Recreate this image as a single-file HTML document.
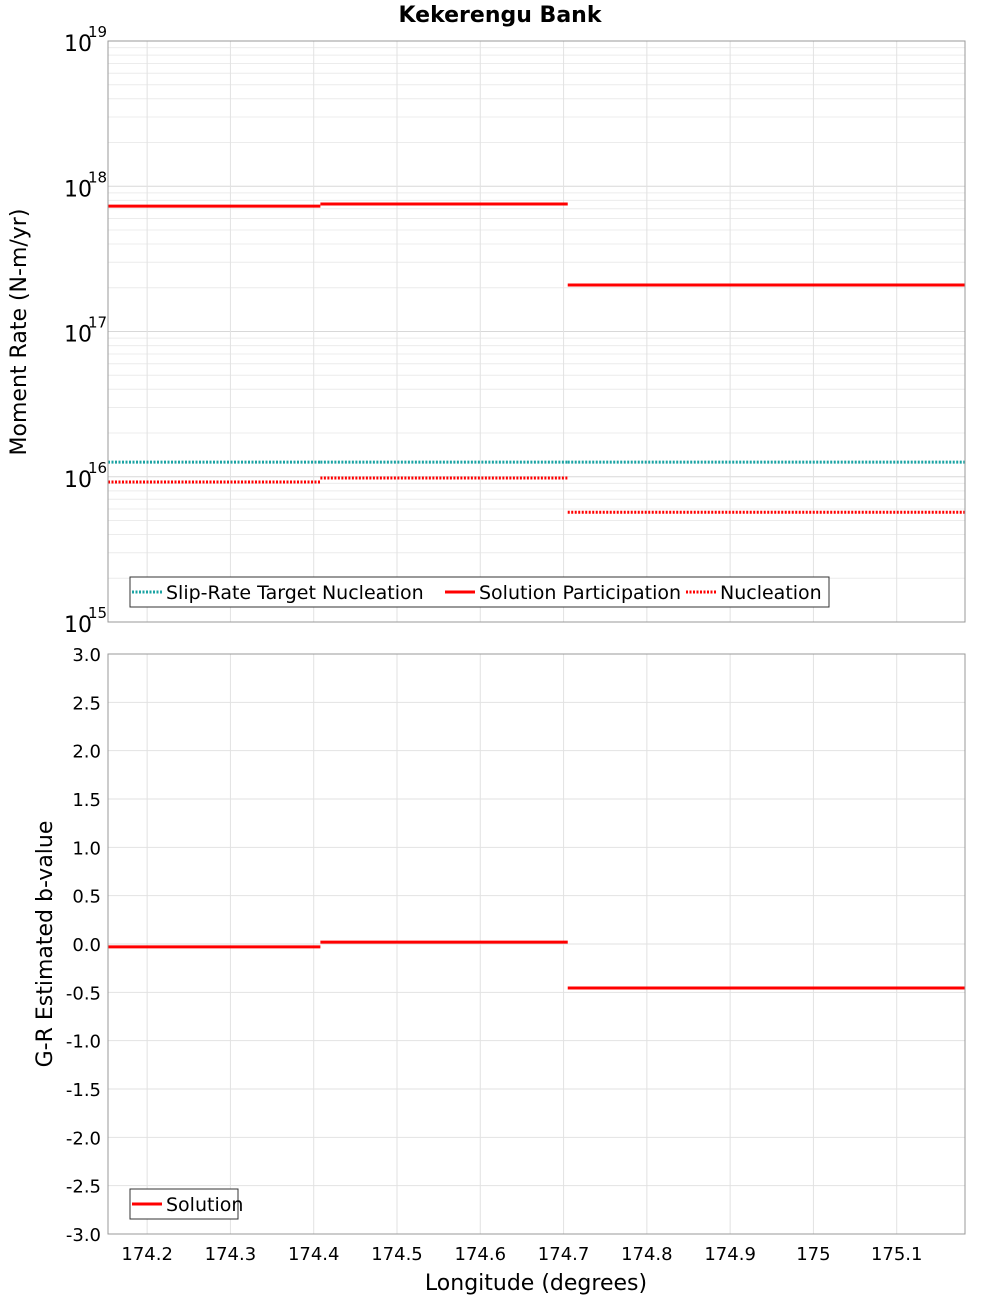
<!DOCTYPE html>
<html><head><meta charset="utf-8"><style>
body{margin:0;background:#fff;}
svg text{font-family:"DejaVu Sans","Liberation Sans",sans-serif;}
</style></head><body>
<svg id="c" width="1000" height="1300" xmlns="http://www.w3.org/2000/svg">
<text x="500" y="22" text-anchor="middle" font-size="22" font-weight="bold">Kekerengu Bank</text>
<g id="gtop"></g><g id="gbot"></g>
<text transform="translate(26,332) rotate(-90)" text-anchor="middle" font-size="22">Moment Rate (N-m/yr)</text>
<text transform="translate(52,944) rotate(-90)" text-anchor="middle" font-size="22">G-R Estimated b-value</text>
<text x="536" y="1290" text-anchor="middle" font-size="22">Longitude (degrees)</text>
</svg>
<script>
const segStarts=[174.153,174.408,174.705];
const segEnds=[174.408,174.705,175.182];
const participation=[7.3e17,7.55e17,2.09e17];
const nucleation=[9.2e15,9.8e15,5.7e15];
const targetNucleation=[1.26e16,1.26e16,1.26e16];
const bValues=[-0.03,0.02,-0.455];
const xTicks=[174.2,174.3,174.4,174.5,174.6,174.7,174.8,174.9,175.0,175.1];
const xTickLabels=["174.2","174.3","174.4","174.5","174.6","174.7","174.8","174.9","175","175.1"];
const logExps=[15,16,17,18,19];
const bTicks=[3,2.5,2,1.5,1,0.5,0,-0.5,-1,-1.5,-2,-2.5,-3];

const NS="http://www.w3.org/2000/svg";
const X0=108,X1=965,XMIN=174.153,XMAX=175.182;
const sx=v=>X0+(v-XMIN)/(XMAX-XMIN)*(X1-X0);
const T0=41,T1=622;
const sy1=v=>T1-(Math.log10(v)-15)/4*(T1-T0);
const B0=654,B1=1234;
const sy2=v=>B1-(v+3)/6*(B1-B0);
function mk(p,tag,a){const e=document.createElementNS(NS,tag);for(const k in a)e.setAttribute(k,a[k]);p.appendChild(e);return e;}
const gTop=document.getElementById('gtop'),gBot=document.getElementById('gbot');

for(let e=15;e<19;e++)for(let m=1;m<10;m++){const y=sy1(m*Math.pow(10,e));
 const l=mk(gTop,'line',{x1:X0,x2:X1,y1:y,y2:y,stroke:m==1?'#d8d8d8':'#ececec','stroke-width':1});
 
 }
xTicks.forEach(t=>{[gTop,gBot].forEach((g,i)=>{const x=sx(t);
 const l=mk(g,'line',{x1:x,x2:x,y1:i?B0:T0,y2:i?B1:T1,stroke:'#e2e2e2','stroke-width':1});
 
 });});
bTicks.forEach(t=>{const y=sy2(t);
 const l=mk(gBot,'line',{x1:X0,x2:X1,y1:y,y2:y,stroke:'#e2e2e2','stroke-width':1});
 
 
 const tx=mk(gBot,'text',{x:101,y:y+7,'text-anchor':'end','font-size':18});tx.textContent=t.toFixed(1);
 
 });
logExps.forEach(e=>{const y=sy1(Math.pow(10,e));
 const t=mk(gTop,'text',{x:64,y:y+10,'font-size':22});t.textContent='10';
 
 
 const s=mk(gTop,'text',{x:88,y:y-4,'font-size':15});s.textContent=String(e);
 
 });
xTicks.forEach((t,i)=>{const tx=mk(gBot,'text',{x:sx(t),y:1260,'text-anchor':'middle','font-size':18});tx.textContent=xTickLabels[i];
 
 });

function seg(g,vals,sy,color,dash,name){vals.forEach((v,i)=>{const y=sy(v);
 const a={x1:sx(segStarts[i]),x2:sx(segEnds[i]),y1:y,y2:y,stroke:color,'stroke-width':3};
 if(dash)a['stroke-dasharray']='2,1.5';
 const l=mk(g,'line',a);
 
 });}
seg(gTop,targetNucleation,sy1,'#1aa3a3',true,'target-nucleation-segment');
seg(gTop,nucleation,sy1,'#ff0000',true,'nucleation-segment');
seg(gTop,participation,sy1,'#ff0000',false,'participation-segment');
seg(gBot,bValues,sy2,'#ff0000',false,'b-value-segment');

[[T0,T1],[B0,B1]].forEach(([a,b],i)=>{const r=mk(i?gBot:gTop,'rect',{x:X0,y:a,width:X1-X0,height:b-a,fill:'none',stroke:'#999','stroke-width':1});
 
 });

function legend(g,x,y,w,items){const r=mk(g,'rect',{x:x,y:y,width:w,height:30,fill:'#fff',stroke:'#333','stroke-width':1});
 
 
 items.forEach(it=>{const a={x1:it[0],x2:it[0]+30,y1:y+15,y2:y+15,stroke:it[2],'stroke-width':3};
  if(it[3])a['stroke-dasharray']='2,1.5';
  const l=mk(g,'line',a);
  
  
  const t=mk(g,'text',{x:it[0]+34,y:y+22,'font-size':19});t.textContent=it[1];
  
  });}
legend(gTop,130,577,699,[[132,'Slip-Rate Target Nucleation','#1aa3a3',1],[445,'Solution Participation','#ff0000',0],[686,'Nucleation','#ff0000',1]]);
legend(gBot,130,1189,108,[[132,'Solution','#ff0000',0]]);
</script>
</body></html>
